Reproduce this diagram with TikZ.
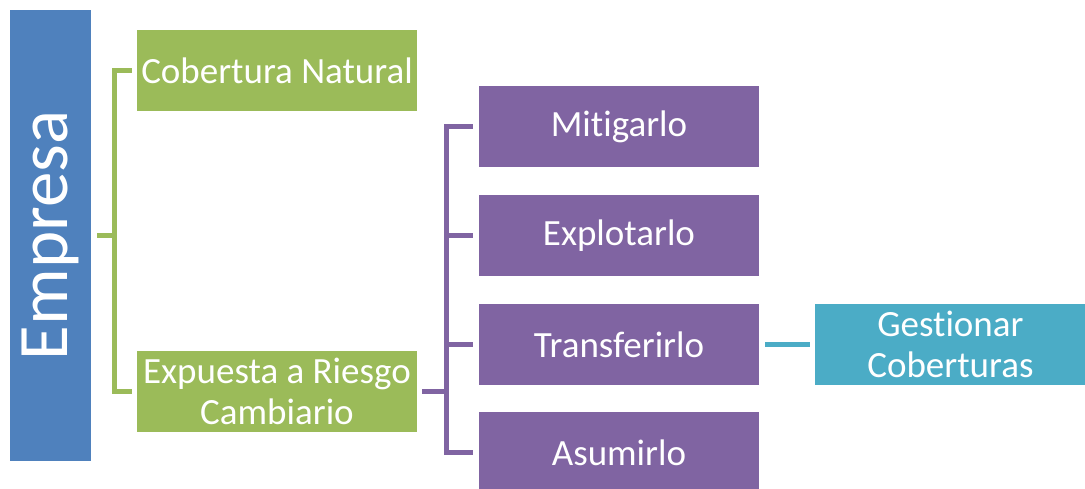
\documentclass[tikz,border=0pt]{standalone}
\usepackage{fontspec}
\setmainfont{Carlito}[Ligatures=NoCommon]
\usetikzlibrary{positioning}
\definecolor{empblue}{HTML}{4F81BD}
\definecolor{lvgreen}{HTML}{9BBB59}
\definecolor{lvpurple}{HTML}{8064A2}
\definecolor{lvteal}{HTML}{4BACC6}

\begin{document}
\begin{tikzpicture}[x=1pt, y=-1pt,
    every node/.style = {shape=rectangle, inner sep=0pt, align=center,
      text=white, font=\fontsize{37}{41}\selectfont},
    box/.style = {minimum width=280pt, minimum height=81pt},
    greenbox/.style = {box, fill=lvgreen},
    purplebox/.style = {box, fill=lvpurple},
    tealbox/.style = {box, minimum width=270pt, fill=lvteal},
    link/.style = {line width=5pt}]
  \useasboundingbox (0,0) rectangle (1085,489);
  % root
  \node [fill=empblue, minimum width=81pt, minimum height=451pt] (empresa) at (50.5,235.5)
    {\rotatebox{90}{\fontsize{71}{80}\selectfont Empresa}};
  % first level
  \node [greenbox] (cobnat) at (277,70.5) {Cobertura Natural};
  \node [greenbox] (expuesta) at (277,391.5) {Expuesta a Riesgo\\Cambiario};
  % second level
  \node [purplebox] (mitig) at (619,126.5) {Mitigarlo};
  \node [purplebox, below=28pt of mitig] (explot) {Explotarlo};
  \node [purplebox, below=27pt of explot] (transf) {Transferirlo};
  \node [purplebox, below=27pt of transf] (asum) {Asumirlo};
  \node [tealbox, right=56pt of transf] (gest) {Gestionar\\Coberturas};
  % connectors
  \coordinate (gjoin) at (114,235.5);
  \coordinate (pjoin) at (446,391.5);
  \draw [link, lvgreen] ([xshift=6pt]empresa.east) -- (gjoin);
  \draw [link, lvgreen] ([xshift=-5pt]cobnat.west) -| (gjoin)
    |- ([xshift=-5pt]expuesta.west);
  \draw [link, lvpurple] ([xshift=5pt]expuesta.east) -- (pjoin);
  \draw [link, lvpurple] ([xshift=-6pt]mitig.west) -| (pjoin)
    |- ([xshift=-6pt]asum.west);
  \draw [link, lvpurple] (pjoin |- explot.west) -- ([xshift=-6pt]explot.west);
  \draw [link, lvpurple] (pjoin |- transf.west) -- ([xshift=-6pt]transf.west);
  \draw [link, lvteal] ([xshift=6pt]transf.east) -- ([xshift=-5pt]gest.west);
\end{tikzpicture}
\end{document}
